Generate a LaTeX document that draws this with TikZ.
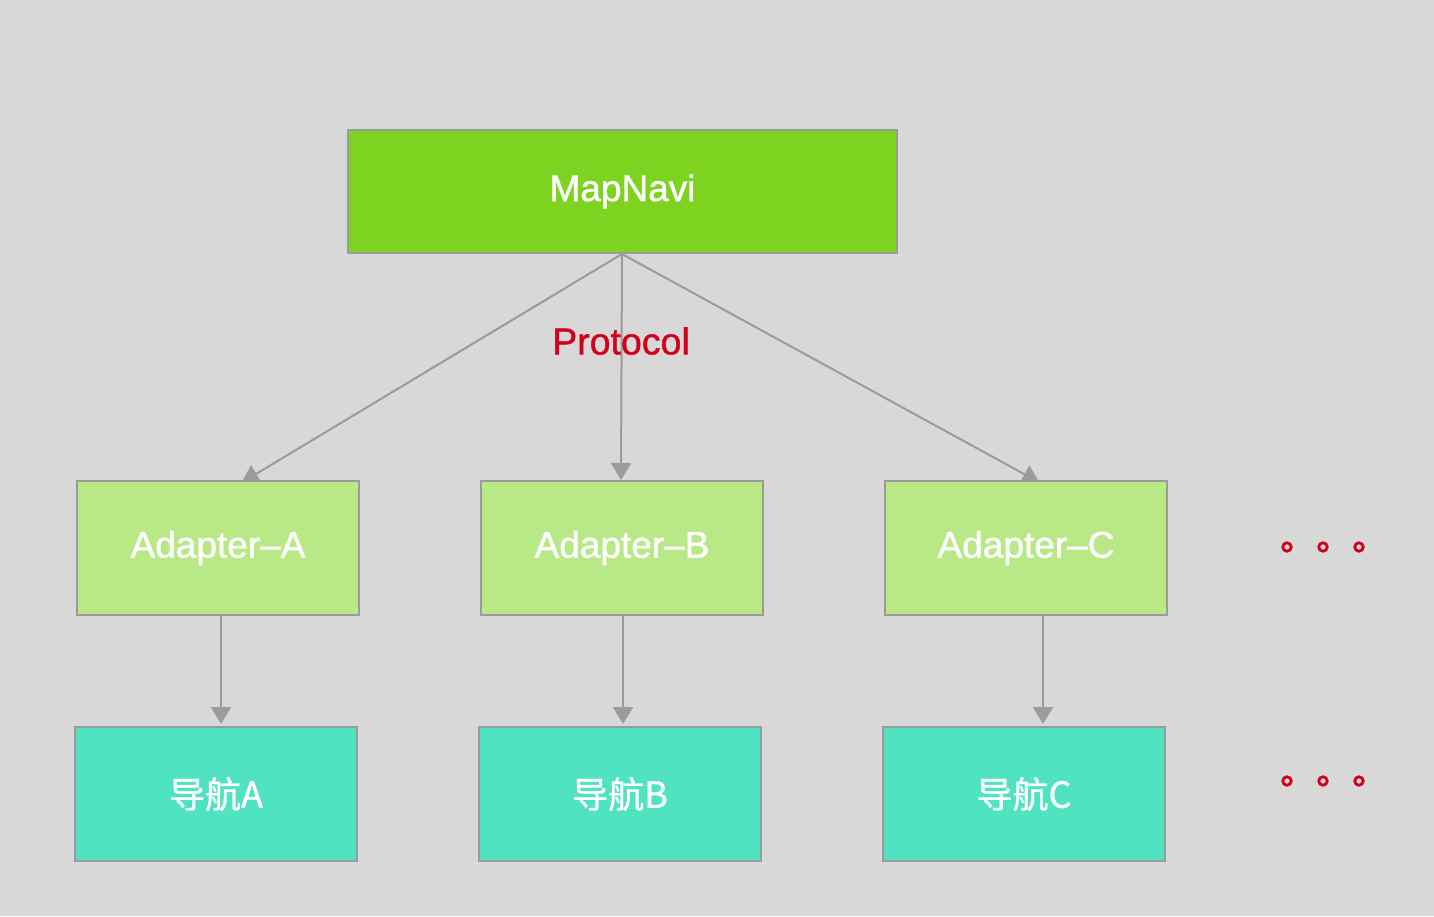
\documentclass[tikz,border=0pt]{standalone}
\usepackage{fontspec}
\setmainfont[FakeBold=1]{Liberation Sans}
\newfontfamily\med[FakeBold=1.2]{Liberation Sans}
\newfontfamily\cjk[FakeBold=1]{Noto Sans CJK SC}
\usetikzlibrary{arrows.meta,calc,backgrounds}
\definecolor{bg}{HTML}{D8D8D8}
\definecolor{edge}{HTML}{9B9B9B}
\definecolor{topg}{HTML}{7ED321}
\definecolor{midg}{HTML}{B8E986}
\definecolor{teal}{HTML}{50E3C2}
\definecolor{red}{HTML}{D0021B}
\tikzset{
  box/.style={draw=edge, line width=2pt, inner sep=0pt, text=white, font=\med\fontsize{37}{42}\selectfont},
  topbox/.style={box, fill=topg, minimum width=549pt, minimum height=123pt},
  adbox/.style={box, fill=midg, minimum width=282pt, minimum height=134pt},
  navbox/.style={box, fill=teal, minimum width=282pt, minimum height=134pt, font=\cjk\fontsize{36}{42}\selectfont},
  conn/.style={draw=edge, line width=2pt, -{Triangle[length=17pt,width=20pt]}},
  dot/.style={draw=red, line width=2.8pt, circle, inner sep=0pt, minimum size=8.5pt}
}
\begin{document}
\begin{tikzpicture}[x=1pt,y=-1pt]
\useasboundingbox (0,0) rectangle (1434,916);
\node[topbox] (mn) at (622.5,191.5) {MapNavi};
\node[adbox] (aa) at (218,548) {Adapter–A};
\node[adbox] (ab) at (622,548) {Adapter–B};
\node[adbox] (ac) at (1026,548) {Adapter–C};
\node[navbox] (na) at (216,794) {导航A};
\node[navbox] (nb) at (620,794) {导航B};
\node[navbox] (nc) at (1024,794) {导航C};
\node[text=red, font=\med\fontsize{37.5}{42}\selectfont, inner sep=0pt] (pr) at (621,341) {Protocol};
\begin{scope}[on background layer]
\fill[bg] (0,0) rectangle (1434,916);
\coordinate (src) at ($(mn.south)+(-0.5,0)$);
\draw[conn, shorten >=-5pt] (src) -- ($(aa.north)+(28,0)$);
\draw[conn] (src) -- ($(ab.north)+(-1,0)$);
\draw[conn, shorten >=-5pt] (src) -- ($(ac.north)+(9,0)$);
\end{scope}
\draw[conn] ($(aa.south)+(3,0)$) -- ($(na.north)+(5,-2)$);
\draw[conn] ($(ab.south)+(1,0)$) -- ($(nb.north)+(3,-2)$);
\draw[conn] ($(ac.south)+(17,0)$) -- ($(nc.north)+(19,-2)$);
\foreach \x/\n in {1287/1,1323/2,1359/3}{
  \node[dot] (d1\n) at (\x,547) {};
  \node[dot] (d2\n) at (\x,781) {};
}
\end{tikzpicture}
\end{document}
